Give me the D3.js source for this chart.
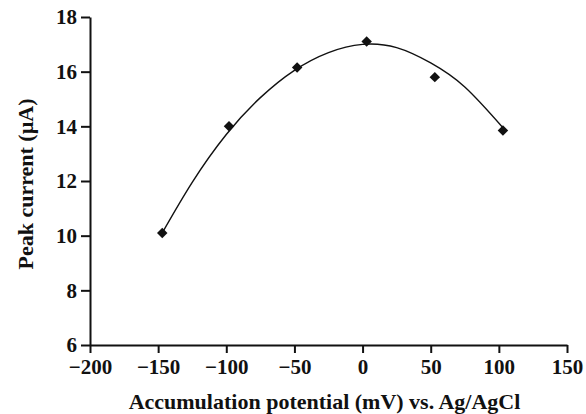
<!DOCTYPE html>
<html>
<head>
<meta charset="utf-8">
<script src="https://cdn.jsdelivr.net/npm/d3@7"></script>
<style>
  body { margin: 0; background: #fff; }
  svg { display: block; }
  text { font-family: "Liberation Serif", "Times New Roman", serif; font-weight: bold; fill: #111; }
</style>
</head>
<body>
<div id="chart"></div>
<script>
// measured points (mV, µA)
var potential = [-147, -98, -48, 3, 53, 103];
var current = [10.1, 14.0, 16.15, 17.1, 15.8, 13.85];

// fitted trend curve
var trendX = [-147, -125, -100, -75, -50, -25, 0, 25, 50, 75, 103];
var trendY = [10.1, 11.95, 13.7, 15.05, 16.05, 16.7, 17.0, 16.88, 16.32, 15.44, 13.95];

var xTicks = [-200, -150, -100, -50, 0, 50, 100, 150];
var yTicks = [6, 8, 10, 12, 14, 16, 18];

var width = 586, height = 414;
var margin = { top: 17, right: 19, bottom: 69, left: 90 };

var svg = d3.select("#chart").append("svg")
    .attr("width", width)
    .attr("height", height);

var x = d3.scaleLinear()
    .domain([-200, 150])
    .range([margin.left, width - margin.right]);

var y = d3.scaleLinear()
    .domain([6, 18])
    .range([height - margin.bottom, margin.top]);

// x axis
var xAxis = svg.append("g")
    .attr("transform", "translate(0," + (height - margin.bottom) + ")")
    .call(d3.axisBottom(x).tickValues(xTicks).tickSize(8).tickSizeOuter(0)
        .tickFormat(function (d) { return d < 0 ? "\u2212" + Math.abs(d) : d; }));

// y axis
var yAxis = svg.append("g")
    .attr("transform", "translate(" + margin.left + ",0)")
    .call(d3.axisLeft(y).tickValues(yTicks).tickSize(9).tickSizeOuter(0));

[xAxis, yAxis].forEach(function (g) {
    g.select(".domain").attr("stroke", "#111").attr("stroke-width", 2);
    g.selectAll(".tick line").attr("stroke", "#111").attr("stroke-width", 2);
    g.selectAll(".tick text")
        .style("font-size", "21px")
        .style("font-family", "'Liberation Serif', serif")
        .style("font-weight", "bold")
        .attr("fill", "#111");
});
xAxis.selectAll(".tick text").attr("dy", "0.85em");
yAxis.selectAll(".tick text").attr("x", -13);

// trend line
var trend = trendX.map(function (d, i) { return [d, trendY[i]]; });
svg.append("path")
    .datum(trend)
    .attr("fill", "none")
    .attr("stroke", "#111")
    .attr("stroke-width", 1.4)
    .attr("d", d3.line()
        .x(function (d) { return x(d[0]); })
        .y(function (d) { return y(d[1]); })
        .curve(d3.curveNatural));

// diamond markers
svg.append("g").selectAll("path")
    .data(potential)
    .enter().append("path")
    .attr("transform", function (d, i) { return "translate(" + x(d) + "," + y(current[i]) + ")"; })
    .attr("d", d3.symbol().type(d3.symbolDiamond2).size(70))
    .attr("fill", "#111");

// axis titles
svg.append("text")
    .attr("x", (x(-200) + x(150)) / 2 - 4)
    .attr("y", 409)
    .attr("text-anchor", "middle")
    .style("font-size", "22px")
    .text("Accumulation potential (mV) vs. Ag/AgCl");

svg.append("text")
    .attr("transform", "translate(33,184) rotate(-90)")
    .attr("text-anchor", "middle")
    .style("font-size", "22px")
    .text("Peak current (\u00b5A)");
</script>
</body>
</html>
